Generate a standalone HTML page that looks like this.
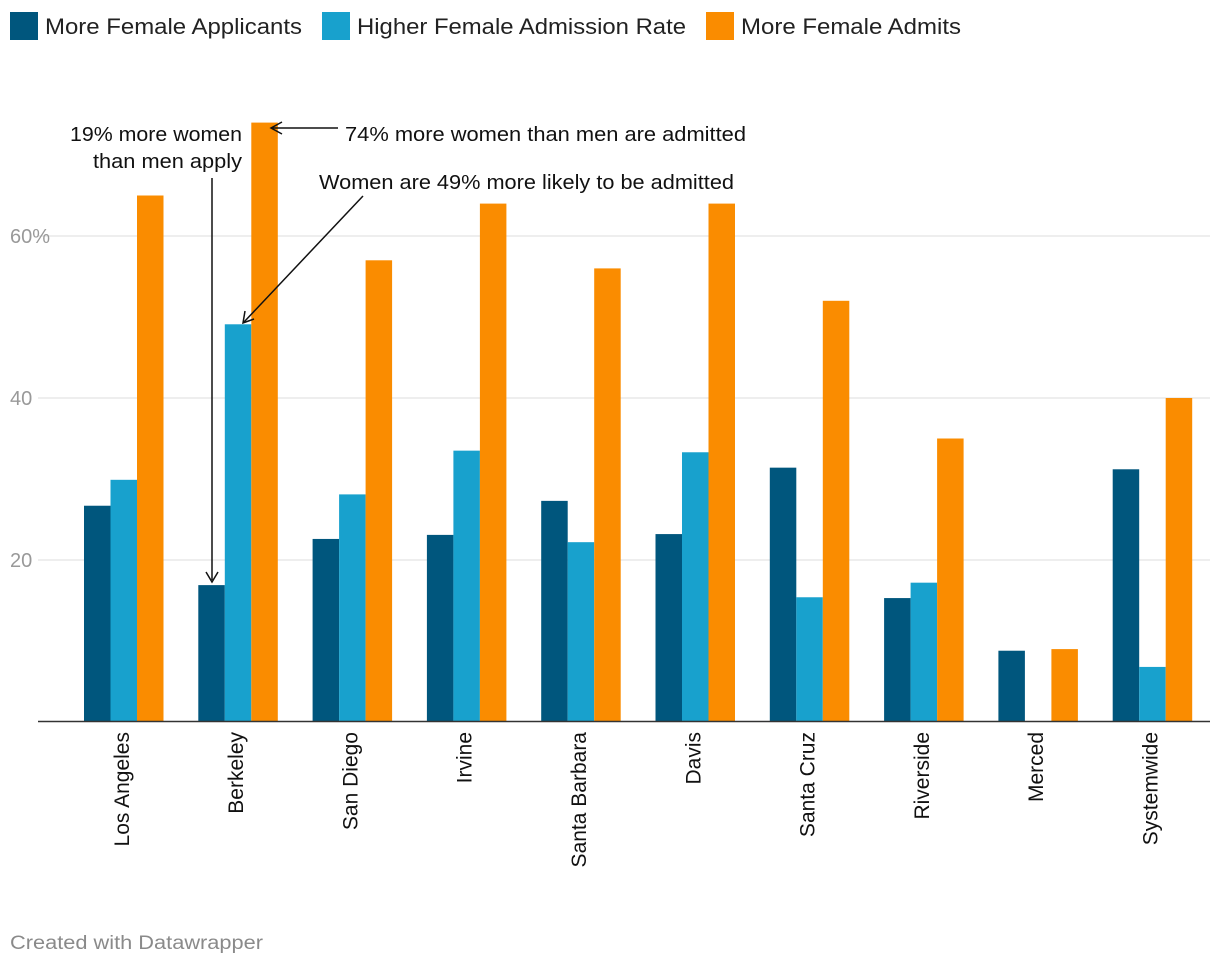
<!DOCTYPE html>
<html><head><meta charset="utf-8"><style>
body{margin:0;background:#fff;font-family:"Liberation Sans",Roboto,sans-serif;}
svg text{font-family:"Liberation Sans",sans-serif;}
</style></head><body>
<svg width="1220" height="966" xmlns="http://www.w3.org/2000/svg">
<g font-size="22" fill="#222">
<rect x="10" y="12" width="28" height="28" fill="#00567d"/>
<text x="45" y="34" textLength="257" lengthAdjust="spacingAndGlyphs">More Female Applicants</text>
<rect x="322" y="12" width="28" height="28" fill="#18a1cd"/>
<text x="357" y="34" textLength="329" lengthAdjust="spacingAndGlyphs">Higher Female Admission Rate</text>
<rect x="706" y="12" width="28" height="28" fill="#fa8c00"/>
<text x="741" y="34" textLength="220" lengthAdjust="spacingAndGlyphs">More Female Admits</text>
</g>
<g id="grid"></g>
<g id="bars"></g>
<g id="xlabels"></g>
<line x1="38" y1="721.5" x2="1210" y2="721.5" stroke="#333" stroke-width="1.5"/>
<g font-size="20" fill="#111">
<text x="70" y="141" textLength="172" lengthAdjust="spacingAndGlyphs">19% more women</text>
<text x="93" y="168" textLength="149" lengthAdjust="spacingAndGlyphs">than men apply</text>
<line x1="212" y1="178" x2="212" y2="580" stroke="#111" stroke-width="1.5"/>
<path d="M206 572 L212 582 L218 572" fill="none" stroke="#111" stroke-width="1.5"/>
<text x="345" y="141" textLength="401" lengthAdjust="spacingAndGlyphs">74% more women than men are admitted</text>
<line x1="338" y1="128" x2="272" y2="128" stroke="#111" stroke-width="1.5"/>
<path d="M282 122 L271 128 L282 134" fill="none" stroke="#111" stroke-width="1.5"/>
<text x="319" y="189" textLength="415" lengthAdjust="spacingAndGlyphs">Women are 49% more likely to be admitted</text>
<line x1="363" y1="196" x2="244" y2="322" stroke="#111" stroke-width="1.5"/>
<path d="M245 311 L243 323 L254 319" fill="none" stroke="#111" stroke-width="1.5"/>
</g>
<text x="10" y="949" font-size="19" fill="#8a8a8a" textLength="253" lengthAdjust="spacingAndGlyphs">Created with Datawrapper</text>
</svg>
<script>
const categories=["Los Angeles","Berkeley","San Diego","Irvine","Santa Barbara","Davis","Santa Cruz","Riverside","Merced","Systemwide"];
const applicants=[26.7,16.9,22.6,23.1,27.3,23.2,31.4,15.3,8.8,31.2];
const admissionRate=[29.9,49.1,28.1,33.5,22.2,33.3,15.4,17.2,0,6.8];
const admits=[65,74,57,64,56,64,52,35,9,40];
const yTicks=[20,40,60];
const yTickLabels=["20","40","60%"];
const NS="http://www.w3.org/2000/svg";
const y0=722,pxPer=8.1;
function y(v){return y0-v*pxPer;}
function xg(i){return 84+i*114.3;}
const bw=26.5;
const grid=document.getElementById('grid');
yTicks.forEach((t,i)=>{
 const l=document.createElementNS(NS,'line');
 l.setAttribute('x1',38);l.setAttribute('x2',1210);l.setAttribute('y1',y(t));l.setAttribute('y2',y(t));
 l.setAttribute('stroke','#ddd');l.setAttribute('stroke-width','1');
 
 
 grid.appendChild(l);
 const tx=document.createElementNS(NS,'text');
 tx.setAttribute('x',10);tx.setAttribute('y',y(t)+7);tx.setAttribute('font-size','20');tx.setAttribute('fill','#999');
 tx.textContent=yTickLabels[i];
 
 
 grid.appendChild(tx);
});
const bars=document.getElementById('bars');
const series=[[applicants,'#00567d'],[admissionRate,'#18a1cd'],[admits,'#fa8c00']];
categories.forEach((c,i)=>{
 series.forEach((s,j)=>{
  const v=s[0][i];
  const r=document.createElementNS(NS,'rect');
  r.setAttribute('x',xg(i)+j*bw);r.setAttribute('width',bw);
  r.setAttribute('y',y(v));r.setAttribute('height',Math.max(0,y0-y(v)));
  r.setAttribute('fill',s[1]);
  
  
  bars.appendChild(r);
 });
 const t=document.createElementNS(NS,'text');
 const cx=xg(i)+bw*1.5-3;
 t.setAttribute('transform','translate('+(cx+8)+',732) rotate(-90)');
 t.setAttribute('text-anchor','end');t.setAttribute('font-size','21');t.setAttribute('fill','#111');
 t.textContent=c;
 
 
 document.getElementById('xlabels').appendChild(t);
});
</script>
</body></html>
